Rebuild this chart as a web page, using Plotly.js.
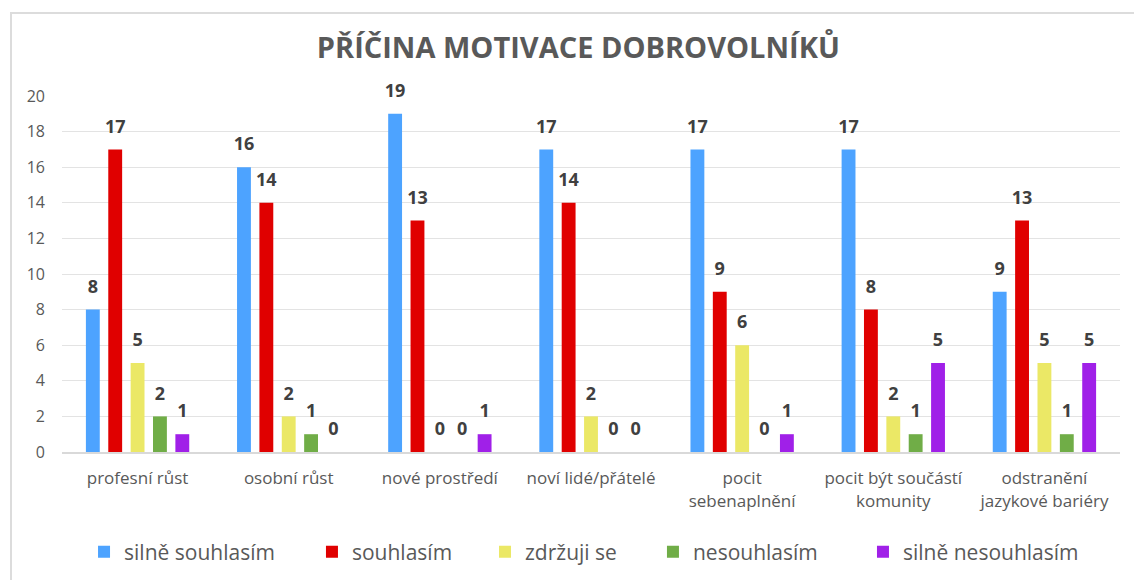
<!DOCTYPE html>
<html>
<head>
<meta charset="utf-8">
<script src="https://cdn.plot.ly/plotly-3.0.1.min.js"></script>
<style>
html,body{margin:0;padding:0;background:#fff;}
#frame{position:absolute;left:10px;top:12px;width:1130px;height:575px;border-left:2px solid #dcdcdc;border-top:2px solid #dcdcdc;pointer-events:none;z-index:5;}
#chart{width:1134px;height:580px;}
</style>
</head>
<body>
<div id="frame"></div>
<div id="chart"></div>
<script>
var categories = ["profesní růst","osobní růst","nové prostředí","noví lidé/přátelé","pocit<br>sebenaplnění","pocit být součástí<br>komunity","odstranění<br>jazykové bariéry"];
var seriesNames = ["silně souhlasím","souhlasím","zdržuji se","nesouhlasím","silně nesouhlasím"];
var silneSouhlasim = [8,16,19,17,17,17,9];
var souhlasim = [17,14,13,14,9,8,13];
var zdrzujiSe = [5,2,0,2,6,2,5];
var nesouhlasim = [2,1,0,0,0,1,1];
var silneNesouhlasim = [1,0,1,0,1,5,5];
var yTicks = [0,2,4,6,8,10,12,14,16,18,20];
var chartTitle = "PŘÍČINA MOTIVACE DOBROVOLNÍKŮ";

var colors = ["#4da3ff","#e00000","#ebe866","#70ad47","#a020e8"];
var allValues = [silneSouhlasim, souhlasim, zdrzujiSe, nesouhlasim, silneNesouhlasim];
var legendIds = ["legend","legend2","legend3","legend4","legend5"];
var legendX = [0.0741, 0.2751, 0.4277, 0.5758, 0.761];

var traces = allValues.map(function(vals, i){
  return {
    type: "bar",
    name: seriesNames[i],
    x: categories,
    y: vals,
    legend: legendIds[i],
    marker: {color: colors[i]},
    hoverinfo: "x+y+name"
  };
});
var labelTraces = allValues.map(function(vals, i){
  return {
    type: "scatter",
    mode: "markers+text",
    orientation: "v",
    x: categories,
    y: vals,
    text: vals.map(String),
    textposition: "top center",
    marker: {size: 18, opacity: 0, color: colors[i]},
    textfont: {family: "Open Sans, sans-serif", size: 18, color: "#404040", weight: "bold"},
    cliponaxis: false,
    showlegend: false,
    hoverinfo: "skip"
  };
});

var layout = {
  width: 1134,
  height: 580,
  margin: {l: 62, r: 14, t: 96, b: 128},
  paper_bgcolor: "#ffffff",
  plot_bgcolor: "#ffffff",
  barmode: "group",
  bargap: 0.26,
  bargroupgap: 0.38,
  scattermode: "group",
  scattergap: 0.26,
  title: {
    text: "<b>" + chartTitle + "</b>",
    font: {family: "Open Sans, sans-serif", size: 29, color: "#595959"},
    x: 0.51, xanchor: "center",
    y: 0.917, yanchor: "middle"
  },
  xaxis: {
    type: "category",
    tickfont: {family: "Open Sans, sans-serif", size: 17, color: "#595959"},
    showline: true, linecolor: "#d9d9d9", linewidth: 2,
    ticks: "", showgrid: false,
    ticklabelstandoff: 10
  },
  yaxis: {
    range: [0, 20],
    tickvals: yTicks,
    ticktext: yTicks.map(String),
    tickfont: {family: "Open Sans, sans-serif", size: 16, color: "#595959"},
    showgrid: true, gridcolor: "#e3e3e3", gridwidth: 1,
    zeroline: false, showline: false, ticks: "",
    ticklabelstandoff: 16
  },
  showlegend: true
};
legendIds.forEach(function(id, i){
  layout[id] = {
    orientation: "h",
    xref: "container", yref: "container",
    x: legendX[i], xanchor: "left",
    y: 0.0483, yanchor: "middle",
    font: {family: "Open Sans, sans-serif", size: 21, color: "#595959"},
    itemwidth: 30,
    bgcolor: "rgba(0,0,0,0)"
  };
});

Plotly.newPlot("chart", traces.concat(labelTraces), layout, {displayModeBar: false, responsive: false});
</script>
</body>
</html>
